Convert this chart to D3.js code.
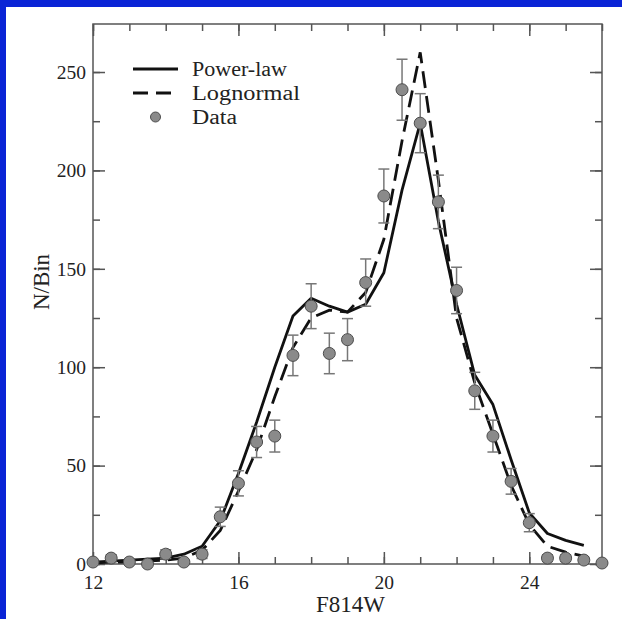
<!DOCTYPE html>
<html><head><meta charset="utf-8">
<script src="https://cdn.jsdelivr.net/npm/d3@7"></script>
<style>
html,body{margin:0;padding:0;background:#fff;}
svg{display:block;}
text{font-family:"Liberation Serif","Times New Roman",serif;fill:#222;}
</style></head>
<body>
<script>
// ---- data ----
const bins = [12,12.5,13,13.5,14,14.5,15,15.5,16,16.5,17,17.5,18,18.5,19,19.5,20,20.5,21,21.5,22,22.5,23,23.5,24,24.5,25,25.5,26];
const counts = [1,3,1,0,5,1,5,24,41,62,65,106,131,107,114,143,187,241,224,184,139,88,65,42,21,3,3,2,0.5];
const errors = [1,1.7,1,0,2.2,1.2,2.2,4.9,6.4,7.9,8.1,10.3,11.4,10.3,10.7,12,13.7,15.5,15,13.6,11.8,9.4,8.1,6.5,4.6,1.7,1.7,1.4,0.7];
const modelBins = [12,12.5,13,13.5,14,14.5,15,15.5,16,16.5,17,17.5,18,18.5,19,19.5,20,20.5,21,21.5,22,22.5,23,23.5,24,24.5,25,25.5];
const powerLaw = [1,1.5,2,2.5,3,5,9,22,46,72,100,126,135,131,128,132,148,190,224,174,132,96,81,53,26,15.5,12,9.5];
const lognormal = [0.5,1,1,1.5,2,3,7,17,37,58,85,110,125,129,128,138,165,215,260,195,125,92,66,40,20,9,6,4];
const xTicks = [12,16,20,24];
const yTicks = [0,50,100,150,200,250];
const legendLabels = ["Power-law","Lognormal","Data"];
const xTitle = "F814W";
const yTitle = "N/Bin";

// ---- layout ----
const W = 622, H = 619;
const m = {left:93, top:24, right:20, bottom:55};
const pw = 602 - m.left, ph = 564 - m.top;

const svg = d3.select("body").append("svg").attr("width",W).attr("height",H);
svg.append("rect").attr("width",W).attr("height",H).attr("fill","#fff");
// blue frame strips (top and left)
svg.append("rect").attr("x",0).attr("y",0).attr("width",W).attr("height",7).attr("fill","#0a24d6");
svg.append("rect").attr("x",0).attr("y",0).attr("width",6).attr("height",H).attr("fill","#0a24d6");

const x = d3.scaleLinear().domain([12,26]).range([m.left, m.left+pw]);
const y = d3.scaleLinear().domain([0,274.4]).range([m.top+ph, m.top]);

const axisColor = "#555";
const g = svg.append("g");

// frame
g.append("rect").attr("x",m.left).attr("y",m.top).attr("width",pw).attr("height",ph)
  .attr("fill","none").attr("stroke",axisColor).attr("stroke-width",1.5);

function styleAxis(sel){
  sel.select(".domain").remove();
  sel.selectAll(".tick line").attr("stroke",axisColor).attr("stroke-width",1.5);
  sel.selectAll(".tick text").style("font-size","19.5px").attr("fill","#222");
}
const xMinor = d3.range(12,26.01,1);
const yMinor = d3.range(0,274,25);
// bottom
g.append("g").attr("transform",`translate(0,${m.top+ph})`)
  .call(d3.axisBottom(x).tickValues(xMinor).tickSize(-7).tickFormat(""))
  .call(styleAxis);
g.append("g").attr("transform",`translate(0,${m.top+ph})`)
  .call(d3.axisBottom(x).tickValues(xTicks).tickSize(-12).tickPadding(10).tickFormat(d3.format("d")))
  .call(styleAxis)
  .call(s=>s.selectAll(".tick text").attr("y",11));
// top
g.append("g").attr("transform",`translate(0,${m.top})`)
  .call(d3.axisTop(x).tickValues(xMinor).tickSize(-7).tickFormat(""))
  .call(styleAxis);
g.append("g").attr("transform",`translate(0,${m.top})`)
  .call(d3.axisTop(x).tickValues(xTicks).tickSize(-12).tickFormat(""))
  .call(styleAxis);
// left
g.append("g").attr("transform",`translate(${m.left},0)`)
  .call(d3.axisLeft(y).tickValues(yMinor).tickSize(-7).tickFormat(""))
  .call(styleAxis);
g.append("g").attr("transform",`translate(${m.left},0)`)
  .call(d3.axisLeft(y).tickValues(yTicks).tickSize(-12).tickPadding(7).tickFormat(d3.format("d")))
  .call(styleAxis)
  .call(s=>s.selectAll(".tick text").attr("x",-7));
// right
g.append("g").attr("transform",`translate(${m.left+pw},0)`)
  .call(d3.axisRight(y).tickValues(yMinor).tickSize(-7).tickFormat(""))
  .call(styleAxis);
g.append("g").attr("transform",`translate(${m.left+pw},0)`)
  .call(d3.axisRight(y).tickValues(yTicks).tickSize(-12).tickFormat(""))
  .call(styleAxis);

// axis titles
svg.append("text").attr("x",(m.left+m.left+pw)/2+3).attr("y",612)
  .attr("text-anchor","middle").style("font-size","23px").text(xTitle);
svg.append("text").attr("transform",`translate(49,282) rotate(-90)`)
  .attr("text-anchor","middle").style("font-size","23px").text(yTitle);

// model curves
const line = d3.line().x((d,i)=>x(modelBins[i])).y(d=>y(d));
g.append("path").datum(powerLaw).attr("d",line).attr("fill","none")
  .attr("stroke","#111").attr("stroke-width",2.8).attr("stroke-linejoin","round");
g.append("path").datum(lognormal).attr("d",line).attr("fill","none")
  .attr("stroke","#111").attr("stroke-width",2.8).attr("stroke-dasharray","17,8");

// data with error bars
const pts = g.append("g");
const errColor = "#777";
bins.forEach((b,i)=>{
  const cx = x(b), v = counts[i], e = errors[i];
  if(e>0){
    pts.append("line").attr("x1",cx).attr("x2",cx).attr("y1",y(v-e)).attr("y2",y(v+e))
      .attr("stroke",errColor).attr("stroke-width",1.5);
    [v-e,v+e].forEach(t=>pts.append("line").attr("x1",cx-5.5).attr("x2",cx+5.5)
      .attr("y1",y(t)).attr("y2",y(t)).attr("stroke",errColor).attr("stroke-width",1.5));
  }
});
pts.selectAll("circle").data(counts).join("circle")
  .attr("cx",(d,i)=>x(bins[i])).attr("cy",d=>y(d)).attr("r",6)
  .attr("fill","#8a8a8a").attr("stroke","#4d4d4d").attr("stroke-width",1);

// legend
const lg = svg.append("g");
const lx0 = 133, lx1 = 178, tx = 192;
const ly = [69, 93, 117];
const legendWidths = [95,108,45];
lg.append("line").attr("x1",lx0).attr("x2",lx1).attr("y1",ly[0]).attr("y2",ly[0])
  .attr("stroke","#111").attr("stroke-width",2.8);
lg.append("line").attr("x1",lx0).attr("x2",lx1).attr("y1",ly[1]).attr("y2",ly[1])
  .attr("stroke","#111").attr("stroke-width",2.8).attr("stroke-dasharray","15,8");
lg.append("circle").attr("cx",(lx0+lx1)/2).attr("cy",ly[2]).attr("r",5)
  .attr("fill","#8a8a8a").attr("stroke","#4d4d4d").attr("stroke-width",1);
legendLabels.forEach((t,i)=>lg.append("text").attr("x",tx).attr("y",ly[i]+7)
  .style("font-size","20.5px").attr("textLength",legendWidths[i])
  .attr("lengthAdjust","spacingAndGlyphs").text(t));
</script>
</body></html>
